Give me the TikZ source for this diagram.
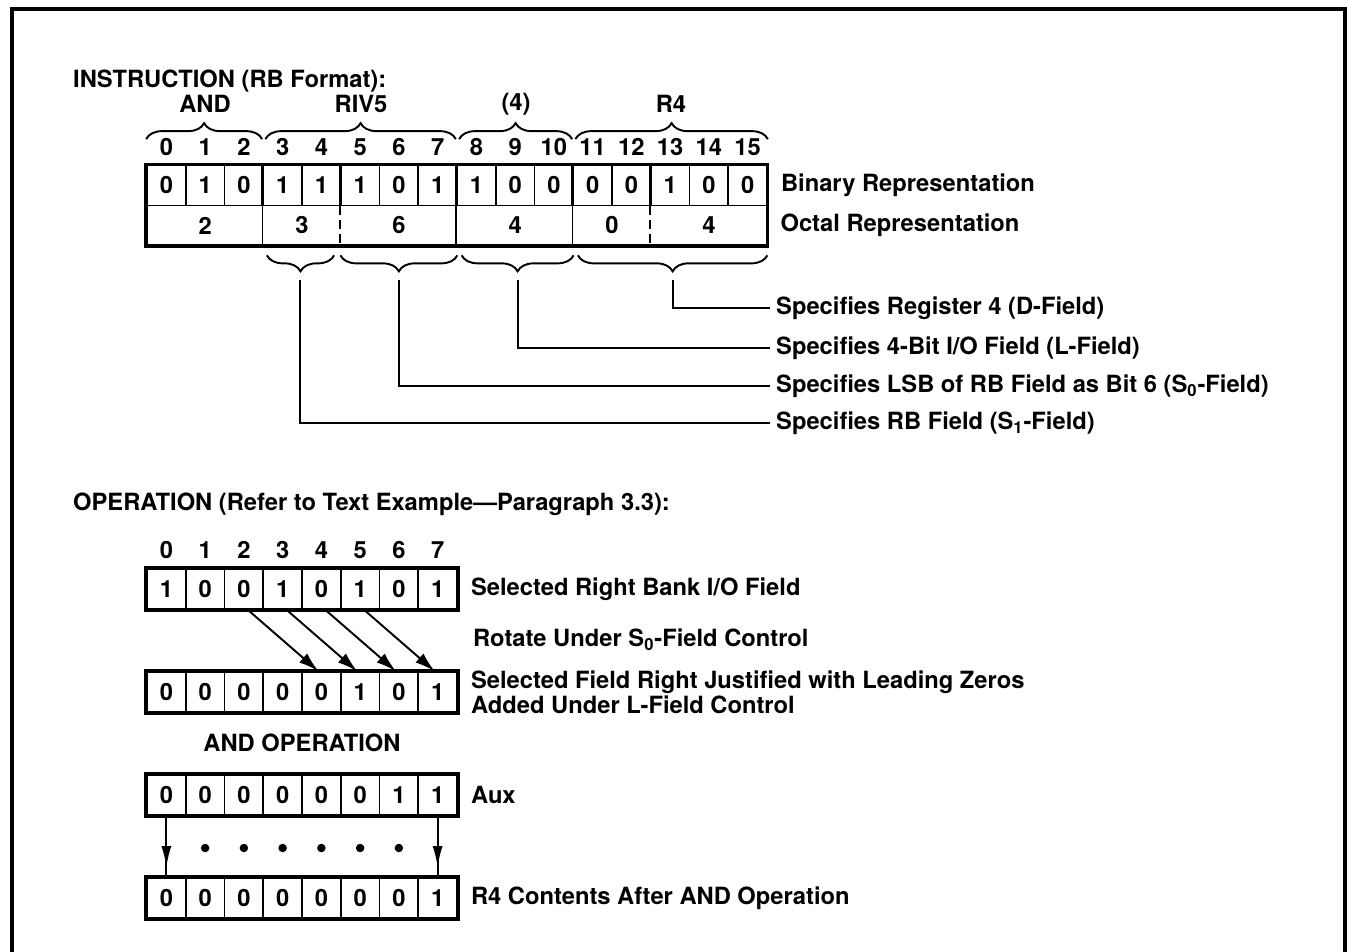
\documentclass[tikz,border=0pt]{standalone}
\usepackage{fontspec}
\setmainfont{TeX Gyre Heros}
\usetikzlibrary{positioning,arrows.meta,calc,decorations.pathreplacing}
\tikzset{
  txt/.style={font=\fontsize{13.5}{14}\selectfont\bfseries},
  cell/.style={draw,line width=1pt,minimum width=0.775cm,minimum height=0.8cm,
              inner sep=0pt,txt},
  octcell/.style={minimum height=0.8cm,inner sep=0pt,txt},
  bitno/.style={txt,inner sep=1pt},
  lbl/.style={txt,anchor=west},
  regbox/.style={line width=2pt},
  grpline/.style={line width=1.5pt},
  divline/.style={line width=1pt},
  upbrace/.style={decorate,decoration={brace,amplitude=0.32cm},line width=1.1pt},
  dnbrace/.style={decorate,decoration={brace,mirror,amplitude=0.32cm},line width=1.1pt},
  conn/.style={line width=1.1pt},
  shiftarrow/.style={-{Latex[length=0.4cm,width=0.24cm]},line width=1.1pt},
  downarrow/.style={-{Latex[length=0.42cm,width=0.2cm]},line width=1.1pt},
  bitdot/.style={circle,fill,inner sep=0pt,minimum size=0.17cm},
  outline/.style={line width=1.8pt},
}
\begin{document}
\begin{tikzpicture}[x=0.02cm,y=-0.02cm]
  \useasboundingbox (0,0) rectangle (1348,951);
  \draw[outline] (12,960) -- (12,9) -- (1345,9) -- (1345,960);

  % instruction word
  \node[lbl] (instr) at (67,81) {INSTRUCTION (RB Format):};
  \foreach \i/\v in {0/0,1/1,2/0,3/1,4/1,5/1,6/0,7/1,8/1,9/0,10/0,11/0,12/0,13/1,14/0,15/0}
    \node[cell] (b\i) at ({147+38.75*(\i+0.5)},185.5) {\v};
  \foreach \i in {0,...,15}
    \node[bitno] (n\i) at ({147+38.75*(\i+0.5)},147) {\i};
  \foreach \n/\x/\w/\v in {o1/205.125/2.325/2,o2/302/1.55/3,o3/398.875/2.325/6,
                           o4/515.125/2.325/4,o5/612/1.55/0,o6/708.875/2.325/4}
    \node[octcell,minimum width=\w cm] (\n) at (\x,225.5) {\v};
  \foreach \k in {3,5,8,11,13}
    \draw[grpline] (b\k.north west) -- (b\k.south west);
  \foreach \k in {3,8,11}
    \draw[divline] (b\k.south west) -- (o1.south -| b\k.west);
  \foreach \k in {5,13}
    \draw[divline,dash pattern=on 5pt off 3pt] (b\k.south west) -- (o1.south -| b\k.west);
  \draw[regbox] (b0.north west) rectangle (o6.south east);
  \node[lbl,right=0.14cm of b15] (binlbl) {Binary Representation};
  \node[lbl,right=0.14cm of o6] (octlbl) {Octal Representation};

  % field braces above
  \draw[upbrace] ([yshift=0.51cm]b0.north west) -- ([shift={(-0.04cm,0.51cm)}]b2.north east);
  \draw[upbrace] ([shift={(0.06cm,0.51cm)}]b3.north west) -- ([shift={(-0.04cm,0.51cm)}]b7.north east);
  \draw[upbrace] ([shift={(0.06cm,0.51cm)}]b8.north west) -- ([shift={(-0.04cm,0.51cm)}]b10.north east);
  \draw[upbrace] ([shift={(0.06cm,0.51cm)}]b11.north west) -- ([yshift=0.51cm]b15.north east);
  \node[txt] (fAND) at (205,104) {AND};
  \node[txt] (fRIV) at (361,104) {RIV5};
  \node[txt] (fL) at (516,104) {(4)};
  \node[txt] (fR) at (671,104) {R4};

  % field braces below
  \draw[dnbrace] ([shift={(0.08cm,-0.19cm)}]o2.south west) -- ([shift={(-0.14cm,-0.19cm)}]o2.south east);
  \draw[dnbrace] ([shift={(0.0cm,-0.19cm)}]o3.south west) -- ([shift={(0.0cm,-0.19cm)}]o3.south east);
  \draw[dnbrace] ([shift={(0.1cm,-0.19cm)}]o4.south west) -- ([shift={(0.0cm,-0.19cm)}]o4.south east);
  \draw[dnbrace] ([shift={(0.1cm,-0.19cm)}]o5.south west) -- ([shift={(0.0cm,-0.19cm)}]o6.south east);
  \coordinate (t1) at ($(o2.south)+(-2,34.5)$);
  \coordinate (t2) at ($(o3.south)+(0,34.5)$);
  \coordinate (t3) at ($(o4.south)+(2.5,34.5)$);
  \coordinate (t4) at ($(o5.south west)!0.5!(o6.south east)+(2.5,34.5)$);
  \node[lbl] (sD) at (770,308) {Specifies Register 4 (D-Field)};
  \node[lbl] (sL) at (770,348) {Specifies 4-Bit I/O Field (L-Field)};
  \node[lbl] (sSo) at (770,386) {Specifies LSB of RB Field as Bit 6 (S\textsubscript{0}-Field)};
  \node[lbl] (sSi) at (770,423) {Specifies RB Field (S\textsubscript{1}-Field)};
  \draw[conn] (t4) |- (sD.west);
  \draw[conn] (t3) |- (sL.west);
  \draw[conn] (t2) |- (sSo.west);
  \draw[conn] (t1) |- (sSi.west);

  % operation
  \node[lbl] (oper) at (67,504) {OPERATION (Refer to Text Example—Paragraph 3.3):};
  \foreach \i in {0,...,7}
    \node[bitno] (m\i) at ({147+38.75*(\i+0.5)},550) {\i};
  \foreach \i/\v in {0/1,1/0,2/0,3/1,4/0,5/1,6/0,7/1}
    \node[cell] (a\i) at ({147+38.75*(\i+0.5)},589) {\v};
  \draw[regbox] (a0.north west) rectangle (a7.south east);
  \node[lbl,right=0.14cm of a7] (selR) {Selected Right Bank I/O Field};
  \node[lbl] (rotlbl) at (467,640) {Rotate Under S\textsubscript{0}-Field Control};
  \foreach \i/\v in {0/0,1/0,2/0,3/0,4/0,5/1,6/0,7/1}
    \node[cell] (c\i) at ({147+38.75*(\i+0.5)},692) {\v};
  \draw[regbox] (c0.north west) rectangle (c7.south east);
  \node[lbl,right=0.14cm of c7,align=left] (selF)
       {Selected Field Right Justified with Leading Zeros\\Added Under L-Field Control};
  \foreach \i [evaluate=\i as \j using int(\i+2)] in {2,...,5}
    \draw[shiftarrow] ([xshift=0.08cm]a\i.south) -- ([xshift=-0.06cm]c\j.north);

  % and operation
  \node[txt] (andop) at (302,743) {AND OPERATION};
  \foreach \i/\v in {0/0,1/0,2/0,3/0,4/0,5/0,6/1,7/1}
    \node[cell] (ax\i) at ({147+38.75*(\i+0.5)},795) {\v};
  \draw[regbox] (ax0.north west) rectangle (ax7.south east);
  \node[lbl,right=0.14cm of ax7] (auxlbl) {Aux};
  \foreach \i/\v in {0/0,1/0,2/0,3/0,4/0,5/0,6/0,7/1}
    \node[cell] (r\i) at ({147+38.75*(\i+0.5)},898) {\v};
  \draw[regbox] (r0.north west) rectangle (r7.south east);
  \node[lbl,right=0.14cm of r7] (reslbl) {R4 Contents After AND Operation};
  \foreach \i in {1,...,6}
    \node[bitdot] (d\i) at ({147+38.75*(\i+0.5)},848) {};
  \draw[conn] (ax0.south) -- (r0.north);
  \draw[downarrow] (ax0.south) -- ([yshift=0.2cm]r0.north);
  \draw[conn] (ax7.south) -- (r7.north);
  \draw[downarrow] (ax7.south) -- ([yshift=0.2cm]r7.north);
\end{tikzpicture}
\end{document}
